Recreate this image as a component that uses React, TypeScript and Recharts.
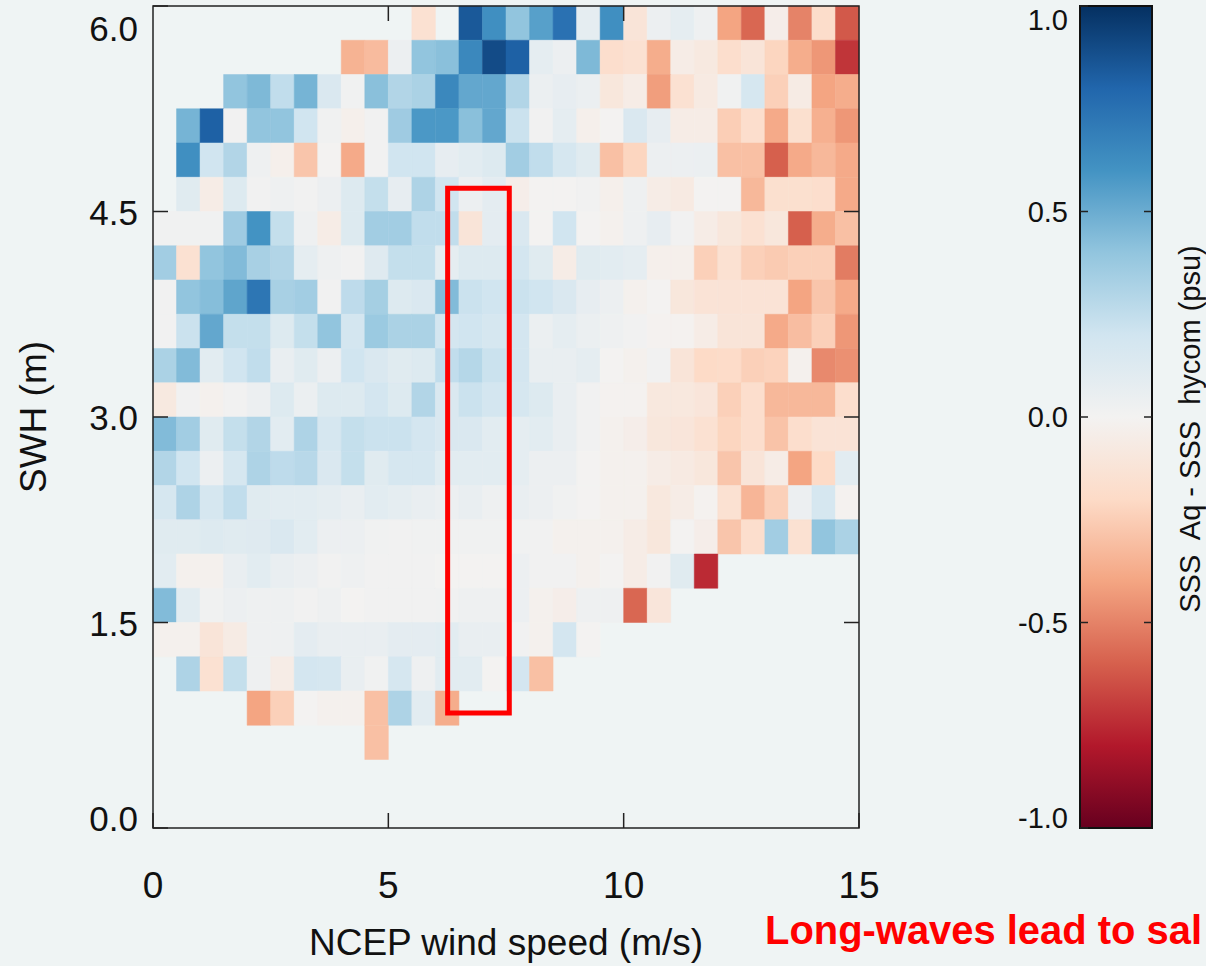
import React from "react";
import { ScatterChart, Scatter, XAxis, YAxis, ReferenceArea, Label } from "recharts";

const _ = null;

// SSS Aq - SSS hycom (psu), one row per SWH bin (0.25 m), 30 wind bins of 0.5 m/s
const swh575 = [_, _, _, _, _, _, _, _, _, _, _, -0.15, _, 0.85, 0.62, 0.4, 0.55, 0.75, 0.08, 0.62, -0.12, 0.04, 0.08, 0.03, -0.4, -0.58, -0.04, -0.5, -0.18, -0.62];
const swh550 = [_, _, _, _, _, _, _, _, -0.35, -0.32, 0.04, 0.4, 0.42, 0.65, 0.9, 0.82, 0.08, 0.04, 0.45, -0.17, -0.15, -0.37, -0.05, -0.08, -0.17, -0.12, -0.22, -0.37, -0.44, -0.72];
const swh525 = [_, _, _, 0.4, 0.45, 0.25, 0.47, 0.15, 0.02, 0.42, 0.3, 0.32, 0.65, 0.52, 0.52, 0.3, 0.05, 0.07, 0.05, -0.1, -0.05, -0.42, -0.15, -0.07, 0.02, 0.17, -0.24, -0.06, -0.4, -0.37];
const swh500 = [_, 0.47, 0.82, 0.01, 0.4, 0.4, 0.2, 0.02, -0.03, 0.01, 0.36, 0.58, 0.58, 0.42, 0.52, 0.22, 0.01, 0.08, -0.03, 0, 0.15, 0.07, -0.05, -0.05, -0.25, -0.17, -0.38, -0.16, -0.36, -0.44];
const swh475 = [_, 0.62, 0.2, 0.3, 0.03, -0.03, -0.28, 0, -0.38, 0.01, 0.2, 0.2, 0.07, 0.1, 0.13, 0.35, 0.25, 0.17, 0.11, -0.3, -0.22, 0.04, 0.04, 0.05, -0.3, -0.3, -0.6, -0.38, -0.33, -0.38];
const swh450 = [_, 0.11, -0.05, 0.13, 0.01, 0.03, 0.01, 0.04, 0.13, 0.24, 0.07, 0.31, 0.2, 0.04, 0.09, -0.04, 0, 0, 0.01, -0.03, 0.03, -0.05, -0.07, 0, 0, -0.33, -0.16, -0.16, -0.17, -0.38];
const swh425 = [0.02, 0.02, 0.02, 0.36, 0.6, 0.24, 0.03, -0.05, 0.13, 0.35, 0.35, 0.25, 0.25, -0.12, 0.09, 0.15, 0, 0.2, 0, -0.02, 0.03, 0.07, 0.01, -0.05, -0.1, -0.15, -0.1, -0.6, -0.37, -0.3];
const swh400 = [0.35, -0.15, 0.4, 0.44, 0.33, 0.3, 0.08, 0.03, 0.01, 0.12, 0.24, 0.24, 0.08, 0.13, 0.13, 0.18, 0.11, -0.05, 0.11, 0.1, 0.08, -0.03, -0.03, -0.24, -0.15, -0.24, -0.26, -0.24, -0.24, -0.52];
const swh375 = [0.01, 0.4, 0.43, 0.53, 0.73, 0.33, 0.35, 0.01, 0.26, 0.34, 0.13, 0.15, 0.44, 0.22, 0.2, 0.22, 0.2, 0.15, 0.07, 0.04, -0.02, 0, -0.1, -0.13, -0.13, -0.13, -0.13, -0.4, -0.28, -0.38];
const swh350 = [0.01, 0.22, 0.52, 0.24, 0.24, 0.13, 0.24, 0.4, 0.18, 0.37, 0.32, 0.32, 0.18, 0.2, 0.17, 0.18, 0.05, 0.08, 0.05, 0.03, 0.01, -0.01, -0.01, -0.05, -0.12, -0.12, -0.38, -0.31, -0.24, -0.44];
const swh325 = [0.32, 0.44, 0.1, 0.2, 0.25, 0.06, 0.11, 0.04, 0.2, 0.15, 0.11, 0.13, 0.25, 0.29, 0.22, 0.18, 0.06, 0.06, 0.08, 0, -0.02, 0.01, -0.12, -0.2, -0.19, -0.24, -0.23, -0.02, -0.48, -0.46];
const swh300 = [-0.08, 0.01, -0.02, 0.01, 0.04, 0.13, 0.05, 0.13, 0.13, 0.18, 0.13, 0.3, 0.15, 0.22, 0.18, 0.17, 0.13, 0.06, 0.01, -0.01, -0.01, -0.09, -0.09, -0.11, -0.24, -0.17, -0.33, -0.33, -0.33, -0.17];
const swh275 = [0.44, 0.35, 0.11, 0.24, 0.3, 0.1, 0.31, 0.17, 0.24, 0.22, 0.22, 0.18, 0.15, 0.15, 0.1, 0.08, 0.1, 0.06, 0.01, -0.02, -0.04, -0.1, -0.11, -0.15, -0.22, -0.17, -0.29, -0.17, -0.13, -0.13];
const swh250 = [0.3, 0.2, 0.04, 0.17, 0.31, 0.26, 0.28, 0.15, 0.24, 0.11, 0.17, 0.17, 0.1, 0.1, 0.1, 0.08, 0.04, 0.04, 0, -0.02, -0.02, -0.05, -0.07, -0.1, -0.28, -0.12, -0.05, -0.4, -0.2, 0.1];
const swh225 = [0.17, 0.31, 0.17, 0.25, 0.11, 0.1, 0.1, 0.08, 0.06, 0.1, 0.08, 0.06, 0.04, 0.06, 0.03, 0.06, 0.04, 0.02, 0, -0.02, -0.02, -0.09, -0.05, -0.01, -0.15, -0.34, -0.24, 0.04, 0.17, -0.01];
const swh200 = [0.11, 0.11, 0.13, 0.11, 0.12, 0.15, 0.1, 0.04, 0.04, 0.02, 0.01, 0.02, 0.02, 0.02, 0.02, 0.02, 0.01, -0.02, -0.02, -0.02, -0.05, -0.1, 0, -0.04, -0.28, -0.17, 0.35, -0.15, 0.4, 0.32];
const swh175 = [0.1, -0.02, -0.02, 0.06, 0.1, 0.06, 0.04, 0.01, 0.03, 0.01, 0.01, 0.01, 0, 0, 0, 0.04, 0.01, 0.01, -0.02, 0, -0.05, 0.01, 0.11, -0.75, _, _, _, _, _, _];
const swh150 = [0.44, 0.1, 0.02, 0.04, 0.03, 0.03, 0.01, 0.03, 0, 0.01, 0.01, 0.01, 0.02, 0.03, 0.03, 0.04, -0.02, -0.04, 0.03, 0.03, -0.58, -0.11, _, _, _, _, _, _, _, _];
const swh125 = [-0.02, -0.02, -0.12, -0.06, 0.03, 0.03, 0.09, 0.06, 0.06, 0.06, 0.09, 0.09, 0.1, 0.06, 0.06, 0.01, -0.02, 0.18, 0, _, _, _, _, _, _, _, _, _, _, _];
const swh100 = [_, 0.31, -0.15, 0.24, 0.03, -0.05, 0.18, 0.17, 0.06, 0.02, 0.17, 0.03, 0.1, 0.1, 0, 0.18, -0.3, _, _, _, _, _, _, _, _, _, _, _, _, _];
const swh075 = [_, _, _, _, -0.4, -0.24, 0, -0.02, -0.02, -0.3, 0.31, 0.1, -0.37, _, _, _, _, _, _, _, _, _, _, _, _, _, _, _, _, _];
const swh050 = [_, _, _, _, _, _, _, _, _, -0.3, _, _, _, _, _, _, _, _, _, _, _, _, _, _, _, _, _, _, _, _];

const swhRows = [swh575, swh550, swh525, swh500, swh475, swh450, swh425, swh400, swh375, swh350, swh325, swh300, swh275, swh250, swh225, swh200, swh175, swh150, swh125, swh100, swh075, swh050];
const swhBinLow = [5.75, 5.5, 5.25, 5.0, 4.75, 4.5, 4.25, 4.0, 3.75, 3.5, 3.25, 3.0, 2.75, 2.5, 2.25, 2.0, 1.75, 1.5, 1.25, 1.0, 0.75, 0.5];
const windBinLow = [0, 0.5, 1, 1.5, 2, 2.5, 3, 3.5, 4, 4.5, 5, 5.5, 6, 6.5, 7, 7.5, 8, 8.5, 9, 9.5, 10, 10.5, 11, 11.5, 12, 12.5, 13, 13.5, 14, 14.5];
const WIND_STEP = 0.5;
const SWH_STEP = 0.25;

const windTicks = [0, 5, 10, 15];
const swhTicks = [0, 1.5, 3, 4.5, 6];
const cbTicks = [-1, -0.5, 0, 0.5, 1];
const windInnerTicks = [5, 10];
const swhInnerTicks = [1.5, 3, 4.5];
const cbInnerTicks = [-0.5, 0, 0.5];

// RdBu, from -1 to +1
const rdbu = ["#67001f", "#b2182b", "#d6604d", "#f4a582", "#fddbc7", "#f3f2f1", "#d1e5f0", "#92c5de", "#4393c3", "#2166ac", "#053061"];

const FONT = '"Liberation Sans", Arial, Helvetica, sans-serif';
const BG = "#eff4f4";

function hexToRgb(h: string) {
  return [1, 3, 5].map((i) => parseInt(h.slice(i, i + 2), 16));
}

function colorFor(v: number) {
  const t = (Math.max(-1, Math.min(1, v)) + 1) / 0.2;
  const i = Math.min(rdbu.length - 2, Math.floor(t));
  const f = t - i;
  const a = hexToRgb(rdbu[i]);
  const b = hexToRgb(rdbu[i + 1]);
  const c = a.map((av, k) => Math.round(av + (b[k] - av) * f));
  return `rgb(${c[0]},${c[1]},${c[2]})`;
}

interface Cell {
  x: number;
  y: number;
  x0: number;
  y0: number;
  v: number;
}

const cells: Cell[] = [];
swhRows.forEach((row, r) => {
  row.forEach((v, c) => {
    if (v === null) return;
    cells.push({
      x0: windBinLow[c],
      y0: swhBinLow[r],
      x: windBinLow[c] + WIND_STEP / 2,
      y: swhBinLow[r] + SWH_STEP / 2,
      v,
    });
  });
});

const cbPoints = cbTicks.map((v) => ({ x: 0.5, y: v }));

// ticks point inward (negative tickSize), so labels are offset back outward
const XTick = ({ x, y, payload }: any) => (
  <text x={x} y={y + 85} textAnchor="middle" fontSize={37} fontFamily={FONT} fill="#111">
    {payload.value}
  </text>
);

// end labels are pulled inside the frame, like the original
const swhShift = (v: number) => (v === 6 ? 22 : v === 0 ? -10 : 0);
const YTick = ({ x, y, payload }: any) => (
  <text x={x} y={y + swhShift(payload.value) + 13} textAnchor="end" fontSize={35} fontFamily={FONT} fill="#111">
    {payload.value.toFixed(1)}
  </text>
);

const cbShift = (v: number) => (v === 1 ? 14 : v === -1 ? -10 : 0);
const CbTick = ({ x, y, payload }: any) => (
  <text x={x} y={y + cbShift(payload.value) + 10} textAnchor="end" fontSize={29} fontFamily={FONT} fill="#111">
    {payload.value.toFixed(1)}
  </text>
);

const NoTick = () => <g />;
const tickStroke = { stroke: "#222", strokeWidth: 1.5 };
const noShape = () => <g />;

export default function App() {
  return (
    <div style={{ position: "absolute", left: 0, top: 0, width: 1206, height: 966, background: BG, overflow: "hidden" }}>
      <svg width={0} height={0} style={{ position: "absolute" }}>
        <defs>
          <linearGradient id="cbGrad" x1="0" y1="0" x2="0" y2="1">
            {rdbu
              .slice()
              .reverse()
              .map((c, i) => (
                <stop key={i} offset={`${i * 10}%`} stopColor={c} />
              ))}
          </linearGradient>
        </defs>
      </svg>

      <div style={{ position: "absolute", left: 0, top: 0 }}>
        <ScatterChart width={900} height={966} margin={{ top: 5, right: 40, bottom: 137, left: 152 }}>
          {cells.map((c, i) => (
            <ReferenceArea
              key={i}
              x1={c.x0}
              x2={c.x0 + WIND_STEP}
              y1={c.y0}
              y2={c.y0 + SWH_STEP}
              fill={colorFor(c.v)}
              fillOpacity={1}
              stroke={colorFor(c.v)}
              strokeWidth={0.5}
            />
          ))}
          <Scatter data={cells} dataKey="y" shape={noShape} isAnimationActive={false} />
          <Scatter data={cells} xAxisId="tp" yAxisId="rt" dataKey="y" shape={noShape} isAnimationActive={false} />

          {/* plot frame */}
          <ReferenceArea x1={0} x2={15} y1={0} y2={6} fill="none" stroke="#222" strokeWidth={1.5} />

          <XAxis
            xAxisId={0}
            type="number"
            dataKey="x"
            domain={[0, 15]}
            ticks={windTicks}
            interval={0}
            height={1}
            axisLine={false}
            tickLine={tickStroke}
            tickSize={-15}
            tickMargin={0}
            tick={<XTick />}
          >
            <Label
              value="NCEP wind speed (m/s)"
              position="bottom"
              offset={100}
              style={{ fontSize: 37, fontFamily: FONT, fill: "#111" }}
            />
          </XAxis>
          <XAxis
            xAxisId="tp"
            orientation="top"
            type="number"
            dataKey="x"
            domain={[0, 15]}
            ticks={windInnerTicks}
            interval={0}
            height={1}
            tick={<NoTick />}
            tickSize={-15}
            axisLine={false}
            tickLine={tickStroke}
          />
          <YAxis
            yAxisId={0}
            type="number"
            dataKey="y"
            domain={[0, 6]}
            ticks={swhTicks}
            interval={0}
            width={1}
            axisLine={false}
            tickLine={tickStroke}
            tickSize={-15}
            tickMargin={30}
            tick={<YTick />}
          >
            <Label
              value="SWH (m)"
              angle={-90}
              position="left"
              offset={119}
              style={{ fontSize: 37, fontFamily: FONT, fill: "#111", textAnchor: "middle" }}
            />
          </YAxis>
          <YAxis
            yAxisId="rt"
            orientation="right"
            type="number"
            dataKey="y"
            domain={[0, 6]}
            ticks={swhInnerTicks}
            interval={0}
            width={1}
            tick={<NoTick />}
            tickSize={-15}
            axisLine={false}
            tickLine={tickStroke}
          />

          {/* highlight box */}
          <ReferenceArea x1={6.26} x2={7.57} y1={0.84} y2={4.67} fill="none" stroke="#ff0000" strokeWidth={5} />
        </ScatterChart>
      </div>

      <div style={{ position: "absolute", left: 960, top: 0 }}>
        <ScatterChart width={246} height={966} margin={{ top: 6, right: 53, bottom: 138, left: 119 }}>
          <ReferenceArea x1={0} x2={1} y1={-1} y2={1} fill="url(#cbGrad)" fillOpacity={1} stroke="#111" strokeWidth={2} />
          <Scatter data={cbPoints} dataKey="y" shape={noShape} isAnimationActive={false} />
          <Scatter data={cbPoints} yAxisId="cr" dataKey="y" shape={noShape} isAnimationActive={false} />
          <XAxis xAxisId={0} type="number" dataKey="x" domain={[0, 1]} hide />
          <YAxis
            yAxisId={0}
            type="number"
            dataKey="y"
            domain={[-1, 1]}
            ticks={cbTicks}
            interval={0}
            width={1}
            axisLine={false}
            tickLine={tickStroke}
            tickSize={-8}
            tickMargin={20}
            tick={<CbTick />}
          />
          <YAxis
            yAxisId="cr"
            orientation="right"
            type="number"
            dataKey="y"
            domain={[-1, 1]}
            ticks={cbInnerTicks}
            interval={0}
            width={1}
            tick={<NoTick />}
            tickSize={-8}
            axisLine={false}
            tickLine={tickStroke}
          >
            <Label
              value={"SSS\u00a0 Aq - SSS\u00a0 hycom (psu)"}
              angle={-90}
              position="right"
              offset={37}
              dy={12}
              style={{ fontSize: 29, fontFamily: FONT, fill: "#111", textAnchor: "middle" }}
            />
          </YAxis>
        </ScatterChart>
      </div>

      <svg width={1206} height={966} style={{ position: "absolute", left: 0, top: 0, pointerEvents: "none" }}>
        <text x={765} y={944} fontSize={40} fontWeight="bold" fontFamily={FONT} fill="#ff0000" textLength={437} lengthAdjust="spacingAndGlyphs">
          Long-waves lead to sal
        </text>
      </svg>
    </div>
  );
}
